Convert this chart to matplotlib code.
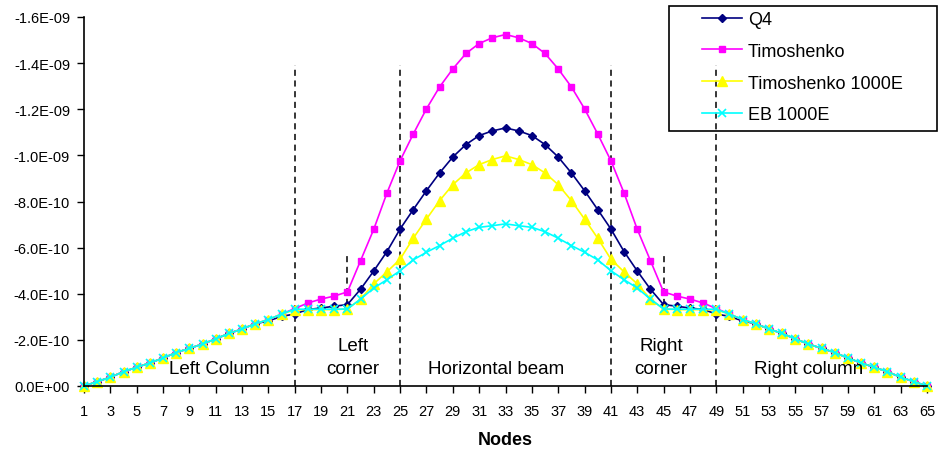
import matplotlib.pyplot as plt
from matplotlib.patches import Rectangle
from matplotlib.ticker import FormatStrFormatter
import numpy as np

plt.rcParams['font.family'] = ['Liberation Sans', 'DejaVu Sans']

# Node numbers along the frame
nodes = np.arange(1, 66)

# Displacement magnitudes, in units of 1e-10 (plotted as negative)
q4 = [0.00, 0.19, 0.38, 0.62, 0.81, 1.00, 1.21, 1.45, 1.63, 1.82, 2.04, 2.28, 2.47, 2.70, 2.82, 3.02, 3.12,
      3.32, 3.38, 3.46, 3.53, 4.20, 4.99, 5.83, 6.81,
      7.65, 8.47, 9.24, 9.93, 10.47, 10.86, 11.06, 11.19, 11.06, 10.86, 10.47, 9.93, 9.24, 8.47, 7.65,
      6.81, 5.83, 4.99, 4.20, 3.53, 3.46, 3.38, 3.32,
      3.12, 3.02, 2.82, 2.70, 2.47, 2.28, 2.04, 1.82, 1.63, 1.45, 1.21, 1.00, 0.81, 0.62, 0.38, 0.19, 0.00]
timo = [0.00, 0.19, 0.38, 0.62, 0.81, 1.00, 1.21, 1.45, 1.63, 1.82, 2.04, 2.28, 2.47, 2.70, 2.88, 3.12, 3.36,
        3.60, 3.77, 3.90, 4.08, 5.44, 6.80, 8.37, 9.77,
        10.93, 12.02, 12.97, 13.75, 14.42, 14.85, 15.10, 15.24, 15.10, 14.85, 14.42, 13.75, 12.97, 12.02, 10.93,
        9.77, 8.37, 6.80, 5.44, 4.08, 3.90, 3.77, 3.60,
        3.36, 3.12, 2.88, 2.70, 2.47, 2.28, 2.04, 1.82, 1.63, 1.45, 1.21, 1.00, 0.81, 0.62, 0.38, 0.19, 0.00]
timo_1000e = [0.00, 0.19, 0.38, 0.62, 0.81, 1.00, 1.21, 1.45, 1.63, 1.82, 2.04, 2.28, 2.47, 2.70, 2.88, 3.12, 3.30,
              3.31, 3.31, 3.31, 3.34, 3.77, 4.43, 4.95, 5.50,
              6.41, 7.24, 8.04, 8.73, 9.24, 9.60, 9.82, 9.98, 9.82, 9.60, 9.24, 8.73, 8.04, 7.24, 6.41,
              5.50, 4.95, 4.43, 3.77, 3.34, 3.31, 3.31, 3.31,
              3.30, 3.12, 2.88, 2.70, 2.47, 2.28, 2.04, 1.82, 1.63, 1.45, 1.21, 1.00, 0.81, 0.62, 0.38, 0.19, 0.00]
eb_1000e = [0.00, 0.19, 0.38, 0.62, 0.81, 1.00, 1.21, 1.45, 1.63, 1.82, 2.04, 2.28, 2.47, 2.70, 2.88, 3.12, 3.33,
            3.33, 3.33, 3.33, 3.34, 3.77, 4.25, 4.61, 5.00,
            5.47, 5.80, 6.09, 6.41, 6.69, 6.88, 6.95, 7.03, 6.95, 6.88, 6.69, 6.41, 6.09, 5.80, 5.47,
            5.00, 4.61, 4.25, 3.77, 3.34, 3.33, 3.33, 3.33,
            3.33, 3.12, 2.88, 2.70, 2.47, 2.28, 2.04, 1.82, 1.63, 1.45, 1.21, 1.00, 0.81, 0.62, 0.38, 0.19, 0.00]

series_names = ['Q4', 'Timoshenko', 'Timoshenko 1000E', 'EB 1000E']

# Section boundaries and labels
section_bounds = [17, 25, 41, 49]
corner_mids = [21, 45]
section_labels = ['Left Column', 'Left\ncorner', 'Horizontal beam', 'Right\ncorner', 'Right column']
label_nodes = [11.3, 21.4, 32.3, 44.8, 56.0]
label_levels = [0.74, 1.26, 0.74, 1.26, 0.74]

scale = -1e-10

fig = plt.figure(figsize=(9.38, 4.52), dpi=100)
ax = fig.add_axes([84 / 938, 1 - 387 / 452, 843 / 938, 369 / 452])

styles = [
    dict(color='#000080', marker='D', markersize=4.2, lw=1.2),
    dict(color='#FF00FF', marker='s', markersize=4.6, lw=1.2),
    dict(color='#FFFF00', marker='^', markersize=7.5, lw=1.2),
    dict(color='#00FFFF', marker='x', markersize=6, markeredgewidth=1.2, lw=1.2),
]
for vals, name, st in zip([q4, timo, timo_1000e, eb_1000e], series_names, styles):
    ax.plot(nodes, np.array(vals) * scale, label=name, clip_on=False, **st)

# dashed section separators
for n in section_bounds:
    ax.plot([n, n], [0, 13.9 * scale], color='black', ls=(0, (4, 3)), lw=1.1, zorder=1)
for n in corner_mids:
    ax.plot([n, n], [3.5 * scale, 5.75 * scale], color='black', ls=(0, (4, 3)), lw=1.1, zorder=1)

for txt, xn, yl in zip(section_labels, label_nodes, label_levels):
    ax.text(xn, yl * scale, txt, ha='center', va='center', fontsize=13.5, linespacing=1.45)

ax.set_xlim(1, 65)
ax.set_ylim(0, -1.6e-9)
ax.set_yticks(np.arange(0, -1.7e-9, -2e-10))
ax.yaxis.set_major_formatter(FormatStrFormatter('%.1E'))
ax.set_xticks(nodes[::2])
ax.tick_params(axis='x', direction='out', length=5, width=1, pad=8, labelsize=10.5)
ax.tick_params(axis='y', direction='out', length=5, width=1, pad=5, labelsize=10.5)
ax.set_xlabel('Nodes', fontsize=13, fontweight='bold', labelpad=9)

for s in ['top', 'right']:
    ax.spines[s].set_visible(False)
for s in ['left', 'bottom']:
    ax.spines[s].set_linewidth(1.2)

leg = ax.legend(loc='upper left', bbox_to_anchor=(702 / 938, 1 - 12 / 452), bbox_transform=fig.transFigure,
                frameon=False, fontsize=13, handlelength=2.2, handletextpad=0.35,
                labelspacing=0.82, borderpad=0, borderaxespad=0)
fig.patches.append(Rectangle((669 / 938, 1 - 132 / 452), 268 / 938, 125 / 452, transform=fig.transFigure,
                             fill=False, edgecolor='black', lw=1.2))

fig.savefig('out.png', dpi=100)
